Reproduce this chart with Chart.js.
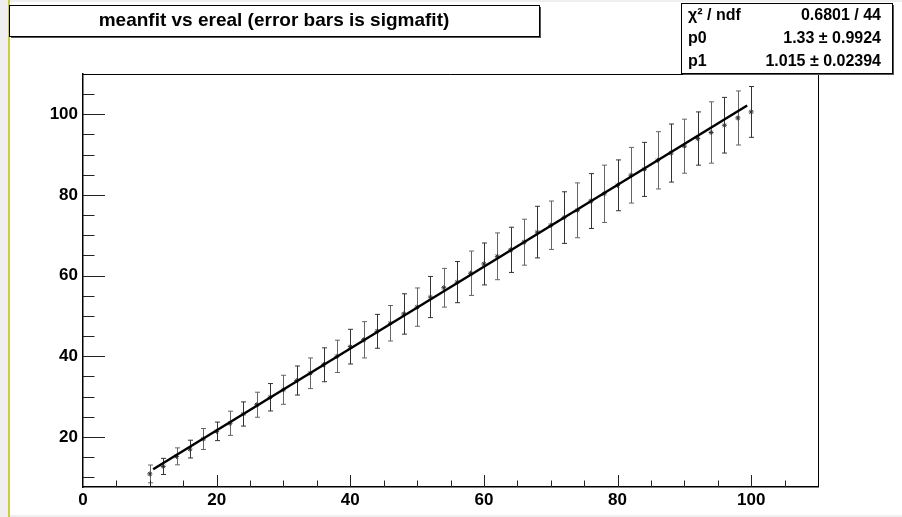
<!DOCTYPE html>
<html lang="en">
<head>
<meta charset="utf-8">
<script src="https://cdn.jsdelivr.net/npm/chart.js@4.4.0/dist/chart.umd.min.js"></script>
<style>
  html, body { margin: 0; padding: 0; background: #fff; }
</style>
</head>
<body>
<canvas id="fit-chart" width="902" height="517"></canvas>
<script>
  // values
  const ereal = [10, 12, 14, 16, 18, 20, 22, 24, 26, 28, 30, 32, 34, 36, 38, 40,
                 42, 44, 46, 48, 50, 52, 54, 56, 58, 60, 62, 64, 66, 68, 70, 72,
                 74, 76, 78, 80, 82, 84, 86, 88, 90, 92, 94, 96, 98, 100];
  const meanfit = [10.85, 12.7, 15.2, 17.0, 19.5, 21.4, 23.4, 25.7, 28.0, 29.85, 31.7, 34.0,
                   35.8, 37.9, 40.0, 42.4, 44.1, 46.2, 48.2, 50.5, 52.2, 54.7, 57.0, 58.4,
                   60.6, 62.9, 64.8, 66.4, 68.3, 70.8, 72.5, 74.4, 76.2, 78.5, 80.3, 82.4,
                   84.9, 86.35, 88.6, 90.4, 92.1, 94.0, 95.5, 97.3, 99.1, 100.6];
  const sigmafit = [2.2, 2.0, 2.1, 2.2, 2.6, 2.3, 3.0, 3.0, 3.1, 3.4, 3.6, 3.6,
                    3.8, 4.2, 4.0, 4.3, 4.5, 4.2, 4.4, 5.0, 4.75, 5.1, 4.8, 5.1,
                    5.5, 5.2, 5.8, 5.6, 5.7, 6.4, 6.0, 6.4, 6.8, 6.8, 7.1, 6.3,
                    6.9, 6.7, 7.1, 7.2, 6.7, 6.6, 7.6, 6.9, 6.7, 6.3];
  const fitX = [10.5, 99.4];
  const fitY = [12.0, 102.2];
  const xTicks = [0, 20, 40, 60, 80, 100];
  const yTicks = [20, 40, 60, 80, 100];

  const titleText = 'meanfit vs ereal (error bars is sigmafit)';
  const statLabels = ['\u03c7\u00b2 / ndf', 'p0', 'p1'];
  const statValues = ['0.6801 / 44', '1.33 \u00b1 0.9924', '1.015 \u00b1 0.02394'];

  const FONT = '"Liberation Sans", Arial, Helvetica, sans-serif';

  function box(ctx, x, y, w, h) {
    ctx.fillStyle = '#555';
    ctx.fillRect(x + 2, y + 2, w, h);
    ctx.fillStyle = '#fff';
    ctx.fillRect(x, y, w, h);
    ctx.strokeStyle = '#000';
    ctx.lineWidth = 1;
    ctx.strokeRect(x + 0.5, y + 0.5, w, h);
  }

  const rootLook = {
    id: 'rootLook',
    beforeDraw(chart) {
      const ctx = chart.ctx;
      ctx.save();
      ctx.fillStyle = '#fff';
      ctx.fillRect(0, 0, chart.width, chart.height);
      ctx.fillStyle = '#efefef';
      ctx.fillRect(0, 0, 8, chart.height);
      ctx.fillRect(0, 0, chart.width, 2);
      ctx.fillRect(0, chart.height - 2, chart.width, 2);
      ctx.fillStyle = '#cccc44';
      ctx.fillRect(8, 0, 2, chart.height);
      ctx.restore();
    },
    beforeDatasetsDraw(chart) {
      // error bars
      const ctx = chart.ctx, xs = chart.scales.x, ys = chart.scales.y;
      ctx.save();
      ctx.lineWidth = 1;
      ereal.forEach((x, i) => {
        const px = Math.round(xs.getPixelForValue(x)) + 0.5;
        const top = ys.getPixelForValue(meanfit[i] + sigmafit[i]);
        const bot = Math.min(ys.getPixelForValue(meanfit[i] - sigmafit[i]), chart.chartArea.bottom);
        ctx.strokeStyle = i % 2 ? '#333' : '#666';
        ctx.beginPath();
        ctx.moveTo(px, top); ctx.lineTo(px, bot);
        ctx.moveTo(px - 2.5, top); ctx.lineTo(px + 2.5, top);
        if (bot < chart.chartArea.bottom) { ctx.moveTo(px - 2.5, bot); ctx.lineTo(px + 2.5, bot); }
        ctx.stroke();
      });
      ctx.restore();
    },
    afterDraw(chart) {
      const ctx = chart.ctx, a = chart.chartArea;
      const xs = chart.scales.x, ys = chart.scales.y;
      ctx.save();
      // frame
      ctx.strokeStyle = '#000';
      ctx.lineWidth = 1;
      ctx.beginPath();
      ctx.moveTo(a.left, a.top + 0.5); ctx.lineTo(a.right + 0.5, a.top + 0.5);
      ctx.lineTo(a.right + 0.5, a.bottom);
      ctx.stroke();
      // inward tick marks
      ctx.strokeStyle = '#222';
      ctx.beginPath();
      for (let v = 5; v < 110; v += 5) {
        const px = Math.round(xs.getPixelForValue(v)) + 0.5;
        const len = v % 20 === 0 ? 12 : 6.5;
        ctx.moveTo(px, a.bottom); ctx.lineTo(px, a.bottom - len);
      }
      for (let v = 10; v < 110; v += 5) {
        const py = Math.round(ys.getPixelForValue(v)) + 0.5;
        const len = v % 20 === 0 ? 22 : 11.5;
        ctx.moveTo(a.left, py); ctx.lineTo(a.left + len, py);
      }
      ctx.stroke();
      // title box
      box(ctx, 9, 5, 530, 31);
      ctx.fillStyle = '#000';
      ctx.font = 'bold 19px ' + FONT;
      ctx.textAlign = 'center';
      ctx.textBaseline = 'middle';
      ctx.fillText(titleText, 274, 21);
      // stats box
      box(ctx, 681, 3, 211, 70);
      ctx.fillStyle = '#000';
      ctx.font = 'bold 16px ' + FONT;
      const rowY = [16, 39, 62];
      statLabels.forEach((t, i) => {
        ctx.textAlign = 'left';
        ctx.fillText(t, 688, rowY[i]);
        ctx.textAlign = 'right';
        ctx.fillText(statValues[i], 881, rowY[i]);
      });
      ctx.restore();
    }
  };

  const tickFont = { family: FONT, size: 17, weight: 'bold' };

  new Chart(document.getElementById('fit-chart'), {
    type: 'scatter',
    data: {
      datasets: [
        {
          type: 'line',
          data: fitX.map((x, i) => ({ x: x, y: fitY[i] })),
          borderColor: '#000',
          borderWidth: 2.5,
          pointRadius: 0,
          fill: false,
          order: 0
        },
        {
          data: ereal.map((x, i) => ({ x: x, y: meanfit[i] })),
          pointStyle: 'star',
          pointRadius: 2.5,
          borderColor: '#333',
          backgroundColor: '#333',
          borderWidth: 1,
          order: 1
        }
      ]
    },
    options: {
      responsive: false,
      animation: false,
      events: [],
      layout: { padding: { left: 0, top: 74, right: 84, bottom: 0 } },
      plugins: { legend: { display: false }, tooltip: { enabled: false } },
      scales: {
        x: {
          type: 'linear',
          min: 0,
          max: 110,
          afterBuildTicks: (s) => { s.ticks = xTicks.map(v => ({ value: v })); },
          afterFit: (s) => { s.height = 30; },
          grid: { display: false, drawTicks: false },
          border: { display: true, color: '#000', width: 1.5 },
          ticks: { font: tickFont, color: '#000', padding: 3, maxRotation: 0, autoSkip: false }
        },
        y: {
          type: 'linear',
          min: 7.6,
          max: 110,
          afterBuildTicks: (s) => { s.ticks = yTicks.map(v => ({ value: v })); },
          afterFit: (s) => { s.width = 83; },
          grid: { display: false, drawTicks: false },
          border: { display: true, color: '#000', width: 1.5 },
          ticks: { font: tickFont, color: '#000', padding: 5, autoSkip: false }
        }
      }
    },
    plugins: [rootLook]
  });
</script>
</body>
</html>
